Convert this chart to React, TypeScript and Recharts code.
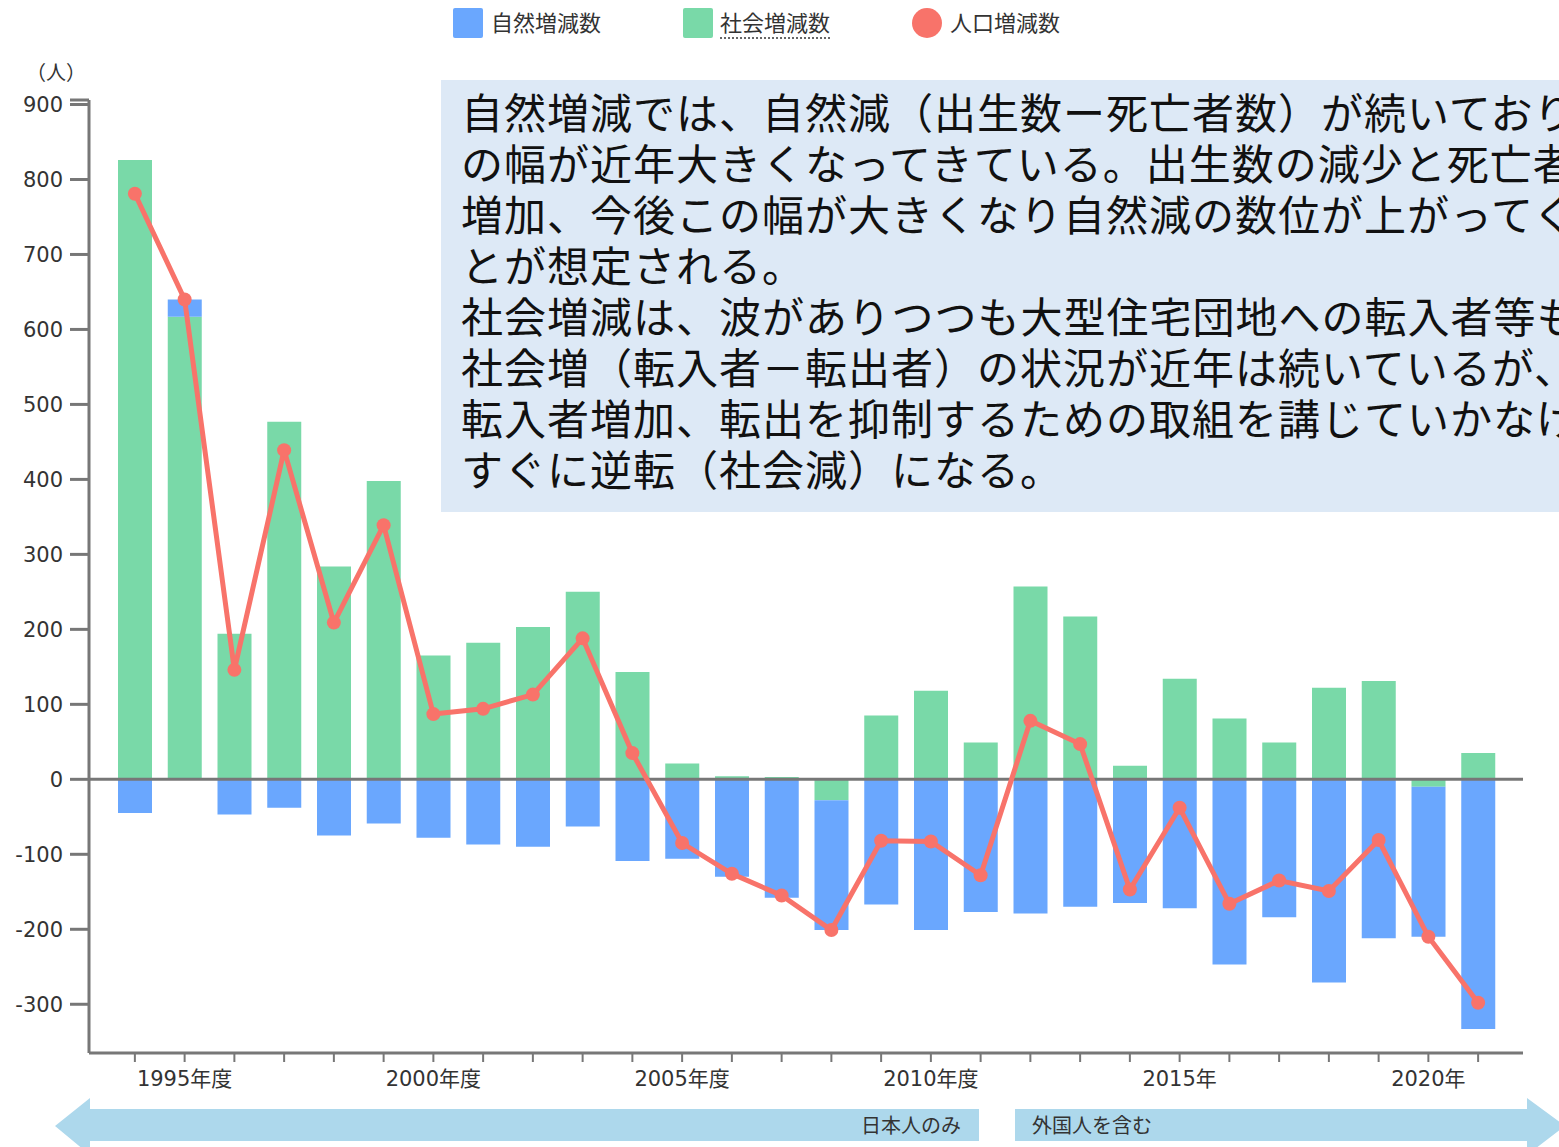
import { ComposedChart, Bar, Line, XAxis, YAxis, ReferenceLine } from 'recharts';

const years = [1994, 1995, 1996, 1997, 1998, 1999, 2000, 2001, 2002, 2003, 2004, 2005, 2006, 2007, 2008, 2009, 2010, 2011, 2012, 2013, 2014, 2015, 2016, 2017, 2018, 2019, 2020, 2021];
// 自然増減数
const natural = [-45, 23, -47, -38, -75, -59, -78, -87, -90, -63, -109, -106, -130, -158, -173, -167, -201, -177, -179, -170, -165, -172, -247, -184, -271, -212, -200, -333];
// 社会増減数
const social = [826, 617, 194, 477, 284, 398, 165, 182, 203, 250, 143, 21, 4, 3, -28, 85, 118, 49, 257, 217, 18, 134, 81, 49, 122, 131, -10, 35];
// 人口増減数
const total = [781, 640, 146, 439, 209, 339, 87, 94, 113, 188, 35, -85, -126, -155, -201, -82, -83, -128, 78, 47, -147, -38, -166, -135, -149, -81, -210, -298];

const yTicks = [-300, -200, -100, 0, 100, 200, 300, 400, 500, 600, 700, 800, 900];
const yMin = -365;
const yMax = 906;

const xLabels: Record<number, string> = {
  1995: '1995年度',
  2000: '2000年度',
  2005: '2005年度',
  2010: '2010年度',
  2015: '2015年',
  2020: '2020年',
};

const noteLines = [
  '自然増減では、自然減（出生数ー死亡者数）が続いており',
  'の幅が近年大きくなってきている。出生数の減少と死亡者',
  '増加、今後この幅が大きくなり自然減の数位が上がってく',
  'とが想定される。',
  '社会増減は、波がありつつも大型住宅団地への転入者等も',
  '社会増（転入者－転出者）の状況が近年は続いているが、',
  '転入者増加、転出を抑制するための取組を講じていかなけ',
  'すぐに逆転（社会減）になる。',
];

const data = years.map((year, i) => ({
  year,
  natural: natural[i],
  social: social[i],
  total: total[i],
}));

const BLUE = '#6aa7fe';
const GREEN = '#79d9a8';
const RED = '#f8736a';
const AXIS = '#777';
const JP = '"Noto Sans CJK JP", sans-serif';
const NUM = '"DejaVu Sans", "Noto Sans CJK JP", sans-serif';

function Legend() {
  const text = { position: 'absolute' as const, top: 6, fontSize: 22, color: '#333', fontFamily: JP, lineHeight: '30px' };
  return (
    <>
      <div style={{ position: 'absolute', left: 453, top: 8, width: 30, height: 30, background: BLUE, borderRadius: 2 }} />
      <div style={{ ...text, left: 491 }}>自然増減数</div>
      <div style={{ position: 'absolute', left: 683, top: 8, width: 30, height: 30, background: GREEN, borderRadius: 2 }} />
      <div style={{ ...text, left: 720 }}>
        <span style={{ borderBottom: '2px dotted #666' }}>社会増減数</span>
      </div>
      <div style={{ position: 'absolute', left: 912, top: 8, width: 30, height: 30, background: RED, borderRadius: '50%' }} />
      <div style={{ ...text, left: 950 }}>人口増減数</div>
    </>
  );
}

function Arrows() {
  return (
    <svg width={1559} height={60} style={{ position: 'absolute', left: 0, top: 1095 }}>
      <polygon points="55,31 90,3 90,14 979,14 979,46 90,46 90,60" fill="#add8ec" />
      <polygon points="1015,14 1527,14 1527,3 1565,31 1527,60 1527,46 1015,46" fill="#add8ec" />
      <text x={961} y={38} textAnchor="end" fontSize={20} fill="#333" fontFamily={JP}>日本人のみ</text>
      <text x={1032} y={38} fontSize={20} fill="#333" fontFamily={JP}>外国人を含む</text>
    </svg>
  );
}

export default function App() {
  return (
    <div style={{ position: 'absolute', left: 0, top: 0, width: 1559, height: 1147, overflow: 'hidden', background: '#fff' }}>
      <div style={{ position: 'absolute', left: 0, top: 0 }}>
        <ComposedChart
          width={1559}
          height={1100}
          data={data}
          stackOffset="sign"
          margin={{ top: 100, right: 36, left: 0, bottom: 7 }}
          barSize={34}
        >
          <XAxis
            dataKey="year"
            type="category"
            interval={0}
            padding={{ left: 21, right: 20 }}
            height={40}
            tickFormatter={(v) => xLabels[v as number] ?? ''}
            tick={{ fill: '#333', fontSize: 21, fontFamily: NUM }}
            tickSize={9}
            tickMargin={9}
            axisLine={{ stroke: AXIS, strokeWidth: 3 }}
            tickLine={{ stroke: AXIS, strokeWidth: 2 }}
          />
          <YAxis
            width={89}
            domain={[yMin, yMax]}
            ticks={[...yTicks, yMax]}
            allowDataOverflow
            interval={0}
            tickFormatter={(v) => (v === yMax ? '' : String(v))}
            tick={{ fill: '#333', fontSize: 21, fontFamily: NUM }}
            tickSize={19}
            tickMargin={7}
            axisLine={{ stroke: AXIS, strokeWidth: 3 }}
            tickLine={{ stroke: AXIS, strokeWidth: 3 }}
          />
          <Bar dataKey="social" name="社会増減数" stackId="a" fill={GREEN} isAnimationActive={false} />
          <Bar dataKey="natural" name="自然増減数" stackId="a" fill={BLUE} isAnimationActive={false} />
          <ReferenceLine y={0} stroke={AXIS} strokeWidth={3} />
          <Line
            dataKey="total"
            name="人口増減数"
            stroke={RED}
            strokeWidth={5}
            dot={{ r: 7, fill: RED, stroke: 'none' }}
            isAnimationActive={false}
          />
        </ComposedChart>
      </div>
      <Legend />
      <div style={{ position: 'absolute', left: 26, top: 58, width: 60, fontSize: 20, color: '#333', fontFamily: JP, lineHeight: '28px' }}>（人）</div>
      <div
        style={{
          position: 'absolute',
          left: 441,
          top: 80,
          width: 1130,
          height: 432,
          background: '#dde9f6',
          boxSizing: 'border-box',
          paddingLeft: 20,
          paddingTop: 5,
          fontSize: 42,
          letterSpacing: 1,
          lineHeight: '51px',
          color: '#111',
          fontFamily: JP,
          whiteSpace: 'nowrap',
          overflow: 'hidden',
        }}
      >
        {noteLines.map((l, i) => (
          <div key={i} style={{ height: 51 }}>{l}</div>
        ))}
      </div>
      <Arrows />
    </div>
  );
}
